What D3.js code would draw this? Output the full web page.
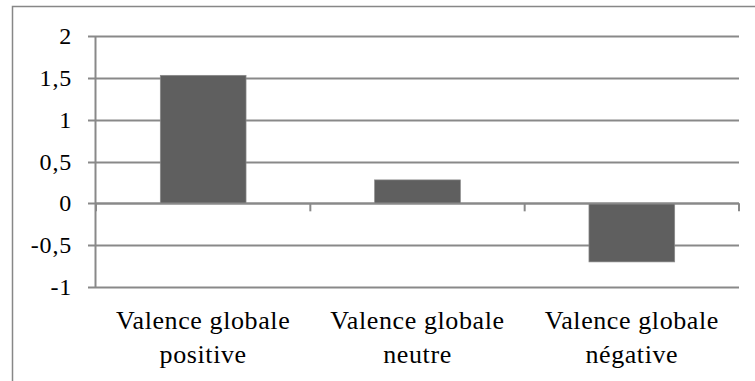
<!DOCTYPE html>
<html>
<head>
<meta charset="utf-8">
<script src="https://cdn.jsdelivr.net/npm/d3@7"></script>
<style>
  body { margin: 0; background: #fff; }
  svg { display: block; }
</style>
</head>
<body>
<svg id="chart" width="755" height="381"></svg>
<script>
var categories = [["Valence globale", "positive"], ["Valence globale", "neutre"], ["Valence globale", "négative"]];
var values = [1.53, 0.28, -0.70];
var yTicks = [-1, -0.5, 0, 0.5, 1, 1.5, 2];

var margin = {top: 36, left: 96};
var plotW = 643, plotH = 251;
var serif = "Liberation Serif";

var svg = d3.select("#chart");

// outer chart frame
svg.append("rect")
	.attr("x", 12.5).attr("y", 6.5)
	.attr("width", 800).attr("height", 500)
	.attr("fill", "none")
	.attr("stroke", "#878787")
	.attr("stroke-width", 1.5);

var g = svg.append("g")
	.attr("transform", "translate(" + margin.left + "," + margin.top + ")");

var x = d3.scaleBand()
	.domain(d3.range(categories.length))
	.range([0, plotW])
	.paddingInner(0.6)
	.paddingOuter(0.3);

var y = d3.scaleLinear()
	.domain([-1, 2])
	.range([plotH, 0]);

// gridlines
g.append("g")
	.selectAll("line")
	.data(yTicks)
	.join("line")
	.attr("x1", -8).attr("x2", plotW)
	.attr("y1", d => Math.round(y(d)) + 0.5)
	.attr("y2", d => Math.round(y(d)) + 0.5)
	.attr("stroke", "#898989")
	.attr("stroke-width", 2);

// tick labels
g.append("g")
	.selectAll("text")
	.data(yTicks)
	.join("text")
	.attr("x", -24)
	.attr("y", d => y(d) + 8)
	.attr("text-anchor", "end")
	.attr("font-family", serif)
	.attr("font-size", 24)
	.attr("letter-spacing", 0.8)
	.attr("fill", "#000")
	.text(d => String(d).replace(".", ","));

// bars
g.append("g")
	.selectAll("rect")
	.data(values)
	.join("rect")
	.attr("x", (d, i) => x(i))
	.attr("width", x.bandwidth())
	.attr("y", d => y(Math.max(0, d)))
	.attr("height", d => Math.abs(y(d) - y(0)))
	.attr("fill", "#5f5f5f")
	.attr("stroke", "#8a8a8a")
	.attr("stroke-width", 0.7);

// y axis line
g.append("line")
	.attr("x1", -0.5).attr("x2", -0.5)
	.attr("y1", 0).attr("y2", plotH)
	.attr("stroke", "#898989")
	.attr("stroke-width", 2);

// x axis line at zero with category ticks
var step = plotW / categories.length;
g.append("line")
	.attr("x1", 0).attr("x2", plotW)
	.attr("y1", Math.round(y(0)) + 0.5).attr("y2", Math.round(y(0)) + 0.5)
	.attr("stroke", "#898989")
	.attr("stroke-width", 2);
g.append("g")
	.selectAll("line")
	.data(d3.range(categories.length + 1))
	.join("line")
	.attr("x1", d => d * step).attr("x2", d => d * step)
	.attr("y1", y(0)).attr("y2", y(0) + 8)
	.attr("stroke", "#898989")
	.attr("stroke-width", 2);

// category labels, two lines each
categories.forEach(function(lines, i) {
	lines.forEach(function(t, j) {
		g.append("text")
			.attr("x", x(i) + x.bandwidth() / 2)
			.attr("y", 292.5 + j * 34)
			.attr("text-anchor", "middle")
			.attr("font-family", serif)
			.attr("font-size", 26)
			.attr("letter-spacing", 0.6)
			.attr("fill", "#000")
			.text(t);
	});
});
</script>
</body>
</html>
